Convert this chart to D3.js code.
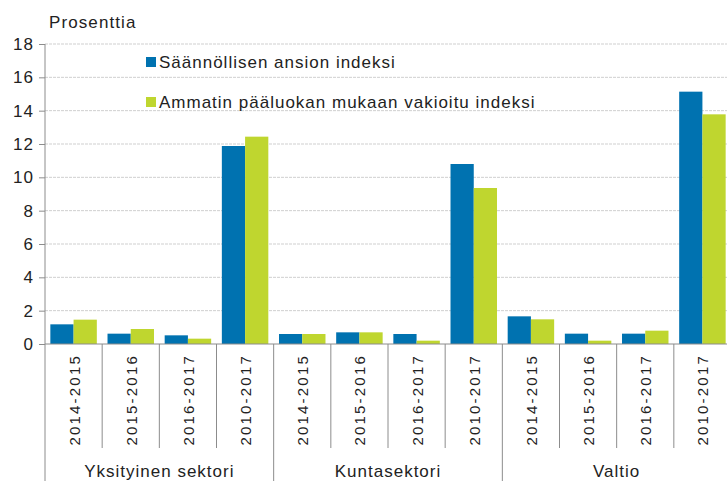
<!DOCTYPE html>
<html>
<head>
<meta charset="utf-8">
<script src="https://cdn.jsdelivr.net/npm/d3@7"></script>
<style>
  body { margin: 0; background: #fff; }
  svg text { font-family: "Liberation Sans", Arial, sans-serif; fill: #222; }
</style>
</head>
<body>
<div id="chart"></div>
<script>
var width = 727;
var height = 481;

// data
var groups = ["Yksityinen sektori", "Kuntasektori", "Valtio"];
var periods = ["2014-2015", "2015-2016", "2016-2017", "2010-2017"];
var seriesNames = ["Säännöllisen ansion indeksi", "Ammatin pääluokan mukaan vakioitu indeksi"];
var regularIndex = [1.18, 0.62, 0.52, 11.88, 0.6, 0.7, 0.6, 10.8, 1.66, 0.62, 0.62, 15.14];
var adjustedIndex = [1.46, 0.9, 0.32, 12.44, 0.6, 0.7, 0.2, 9.36, 1.48, 0.2, 0.8, 13.78];
var yTicks = [0, 2, 4, 6, 8, 10, 12, 14, 16, 18];
var colors = ["#0072b0", "#bfd62f"];

var margin = {top: 44, left: 45, bottom: 137};
var plotRight = 731;

var svg = d3.select("#chart")
    .append("svg")
    .attr("width", width)
    .attr("height", height);

// one row per bar group
var rows = [];
groups.forEach(function(g, gi) {
    periods.forEach(function(p, pi) {
        var i = gi * periods.length + pi;
        rows.push({key: g + "|" + p, group: g, period: p, values: [regularIndex[i], adjustedIndex[i]]});
    });
});

var x = d3.scaleBand()
    .domain(rows.map(d => d.key))
    .range([margin.left, plotRight])
    .paddingInner(0)
    .paddingOuter(0);

var xSub = d3.scaleBand()
    .domain([0, 1])
    .range([0, x.bandwidth()])
    .paddingInner(0)
    .paddingOuter(0.23);

var y = d3.scaleLinear()
    .domain([0, 18])
    .range([height - margin.bottom, margin.top]);

// gridlines
svg.append("g")
    .selectAll("line")
    .data(yTicks.filter(t => t > 0))
    .enter()
    .append("line")
    .attr("x1", margin.left)
    .attr("x2", plotRight)
    .attr("y1", d => y(d))
    .attr("y2", d => y(d))
    .attr("stroke", "#cfcfcf")
    .attr("stroke-dasharray", "3,1");

// bars
var barGroups = svg.append("g")
    .selectAll("g")
    .data(rows)
    .enter()
    .append("g")
    .attr("transform", d => "translate(" + x(d.key) + ",0)");

barGroups.selectAll("rect")
    .data(d => d.values)
    .enter()
    .append("rect")
    .attr("x", (d, i) => xSub(i))
    .attr("width", xSub.bandwidth())
    .attr("y", d => y(d))
    .attr("height", d => y(0) - y(d))
    .attr("fill", (d, i) => colors[i]);

// y axis
var yAxis = svg.append("g")
    .attr("transform", "translate(" + margin.left + ",0)")
    .call(d3.axisLeft(y).tickValues(yTicks).tickSize(6).tickPadding(5));
yAxis.select(".domain").attr("stroke", "#8c8c8c").attr("d", "M0," + y(18) + "V" + height);
yAxis.selectAll(".tick line").attr("stroke", "#8c8c8c");
yAxis.selectAll(".tick text")
    .style("font-size", "17px")
    .style("letter-spacing", "1px")
    .attr("fill", "#222");

// x baseline
svg.append("line")
    .attr("x1", margin.left)
    .attr("x2", plotRight)
    .attr("y1", y(0))
    .attr("y2", y(0))
    .attr("stroke", "#8c8c8c");

// category dividers
svg.append("g")
    .selectAll("line")
    .data(rows.slice(1))
    .enter()
    .append("line")
    .attr("x1", d => x(d.key))
    .attr("x2", d => x(d.key))
    .attr("y1", y(0))
    .attr("y2", (d, i) => (i + 1) % periods.length === 0 ? height : 448)
    .attr("stroke", "#8c8c8c");

// period labels
svg.append("g")
    .selectAll("text")
    .data(rows)
    .enter()
    .append("text")
    .attr("transform", d => "translate(" + (x(d.key) + x.bandwidth() / 2 + 6) + "," + (y(0) + 10) + ") rotate(-90)")
    .attr("text-anchor", "end")
    .style("font-size", "15px")
    .style("letter-spacing", "2.2px")
    .text(d => d.period);

// group labels
svg.append("g")
    .selectAll("text")
    .data(groups)
    .enter()
    .append("text")
    .attr("x", (g, gi) => x(g + "|" + periods[0]) + x.bandwidth() * periods.length / 2)
    .attr("y", 477)
    .attr("text-anchor", "middle")
    .style("font-size", "17px")
    .style("letter-spacing", "1px")
    .text(d => d);

// axis title
svg.append("text")
    .attr("x", 49)
    .attr("y", 28)
    .style("font-size", "17px")
    .style("letter-spacing", "1.1px")
    .text("Prosentti" + "a");

// legend
var legend = svg.append("g")
    .selectAll("g")
    .data(seriesNames)
    .enter()
    .append("g")
    .attr("transform", (d, i) => "translate(146," + (57 + i * 40) + ")");

legend.append("rect")
    .attr("width", 10)
    .attr("height", 10)
    .attr("fill", (d, i) => colors[i]);

legend.append("text")
    .attr("x", 13)
    .attr("y", 11)
    .style("font-size", "17px")
    .style("letter-spacing", "1px")
    .text(d => d);
</script>
</body>
</html>
